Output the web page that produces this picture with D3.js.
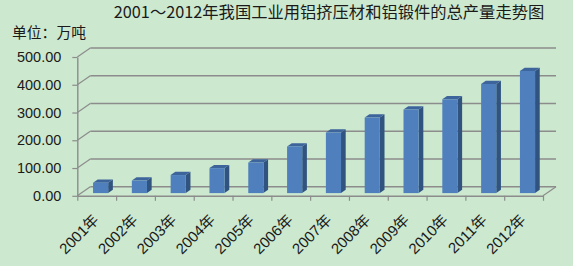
<!DOCTYPE html>
<html><head><meta charset="utf-8">
<script src="https://cdn.jsdelivr.net/npm/d3@7"></script>
<style>
html,body{margin:0;padding:0;background:#cce8cf;}
svg{display:block;}
</style>
</head><body>
<svg id="c" width="573" height="266"></svg>
<script>
const years = ["2001年","2002年","2003年","2004年","2005年","2006年","2007年","2008年","2009年","2010年","2011年","2012年"];
const values = [37, 45, 65, 90, 110, 168, 218, 272, 301, 338, 393, 440];
const yTicks = [0, 100, 200, 300, 400, 500];
const title = "2001～2012年我国工业用铝挤压材和铝锻件的总产量走势图";
const unitLabel = "单位：万吨";

const W = 573, H = 266;
const svg = d3.select("#c");
svg.append("rect").attr("width", W).attr("height", H).attr("fill", "#cce8cf");

const x0 = 77.3, x1 = 543;
const x = d3.scaleBand().domain(years).range([x0, x1]).paddingInner(0).paddingOuter(0);
const xi = d3.scaleLinear().domain([0, years.length]).range([x0, x1]);
const y = d3.scaleLinear().domain([0, 500]).range([195.8, 57]);
const DX = 13, DY = -9;           // full depth offset
const tF = 0.3, tB = 0.66;         // bar front/back depth fraction
const gridColor = "#8c8c8c";
const sans = "'Liberation Sans', Arial, 'Noto Sans CJK SC', sans-serif";
const cjk = "'Noto Sans CJK SC', sans-serif";

// back wall gridlines + left wall diagonals
const grid = svg.append("g");
yTicks.forEach(v => {
  const yy = y(v);
  grid.append("line").attr("x1", x0 + DX).attr("x2", x1 + DX).attr("y1", yy + DY).attr("y2", yy + DY)
    .attr("stroke", gridColor).attr("stroke-width", 1.4);
  grid.append("line").attr("x1", x0).attr("x2", x0 + DX).attr("y1", yy).attr("y2", yy + DY)
    .attr("stroke", gridColor).attr("stroke-width", 1.2);
});
// right floor edge
grid.append("line").attr("x1", x1).attr("x2", x1 + DX).attr("y1", y(0)).attr("y2", y(0) + DY)
  .attr("stroke", gridColor).attr("stroke-width", 1.2);

// bars
const bw = x.bandwidth() * 0.39;
const bars = svg.append("g");
years.forEach((yr, i) => {
  const v = values[i];
  const cx = x(yr) + x.bandwidth() / 2;
  const fl = cx - bw / 2 + DX * tF, fr = fl + bw;
  const fb = y(0) + DY * tF, ft = y(v) + DY * tF;
  const ddx = DX * (tB - tF), ddy = DY * (tB - tF);
  // side
  bars.append("path").attr("d", `M${fr},${ft} L${fr+ddx},${ft+ddy} L${fr+ddx},${fb+ddy} L${fr},${fb} Z`)
    .attr("fill", "#30547f");
  // top
  bars.append("path").attr("d", `M${fl},${ft} L${fl+ddx},${ft+ddy} L${fr+ddx},${ft+ddy} L${fr},${ft} Z`)
    .attr("fill", "#3d659c");
  // front
  bars.append("rect").attr("x", fl).attr("y", ft).attr("width", bw).attr("height", fb - ft)
    .attr("fill", "#4f80bd");
});

// y axis
const yAxis = svg.append("g").attr("transform", `translate(${x0},0)`)
  .call(d3.axisLeft(y).tickValues(yTicks).tickFormat(d3.format(".2f")).tickSize(5).tickSizeOuter(0));
yAxis.select(".domain").attr("stroke", gridColor).attr("stroke-width", 1.4);
yAxis.selectAll(".tick line").attr("stroke", gridColor).attr("stroke-width", 1.2);
yAxis.selectAll(".tick text").attr("font-family", sans).attr("font-size", 14.5).attr("fill", "#1a1a1a")
  .attr("x", -16);

// x axis (front floor edge with ticks at category boundaries)
const xAxis = svg.append("g").attr("transform", `translate(0,${y(0)})`)
  .call(d3.axisBottom(xi).tickValues(d3.range(years.length + 1)).tickFormat("").tickSize(5).tickSizeOuter(0));
xAxis.select(".domain").attr("stroke", gridColor).attr("stroke-width", 1.4);
xAxis.selectAll(".tick line").attr("stroke", gridColor).attr("stroke-width", 1.2);

// x labels
svg.append("g").selectAll("text").data(years).join("text")
  .attr("transform", d => `translate(${x(d) + x.bandwidth() / 2 + 3},${y(0) + 25}) rotate(-45)`)
  .attr("text-anchor", "end")
  .attr("font-family", sans).attr("font-size", 15).attr("fill", "#1a1a1a")
  .text(d => d);

// title
svg.append("text").attr("x", 329).attr("y", 17.5).attr("text-anchor", "middle")
  .attr("font-family", cjk).attr("font-size", 16.3).attr("fill", "#1a1a1a").text(title);
svg.append("text").attr("x", 12).attr("y", 38)
  .attr("font-family", cjk).attr("font-size", 14.8).attr("fill", "#1a1a1a").text(unitLabel);
</script>
</body></html>
